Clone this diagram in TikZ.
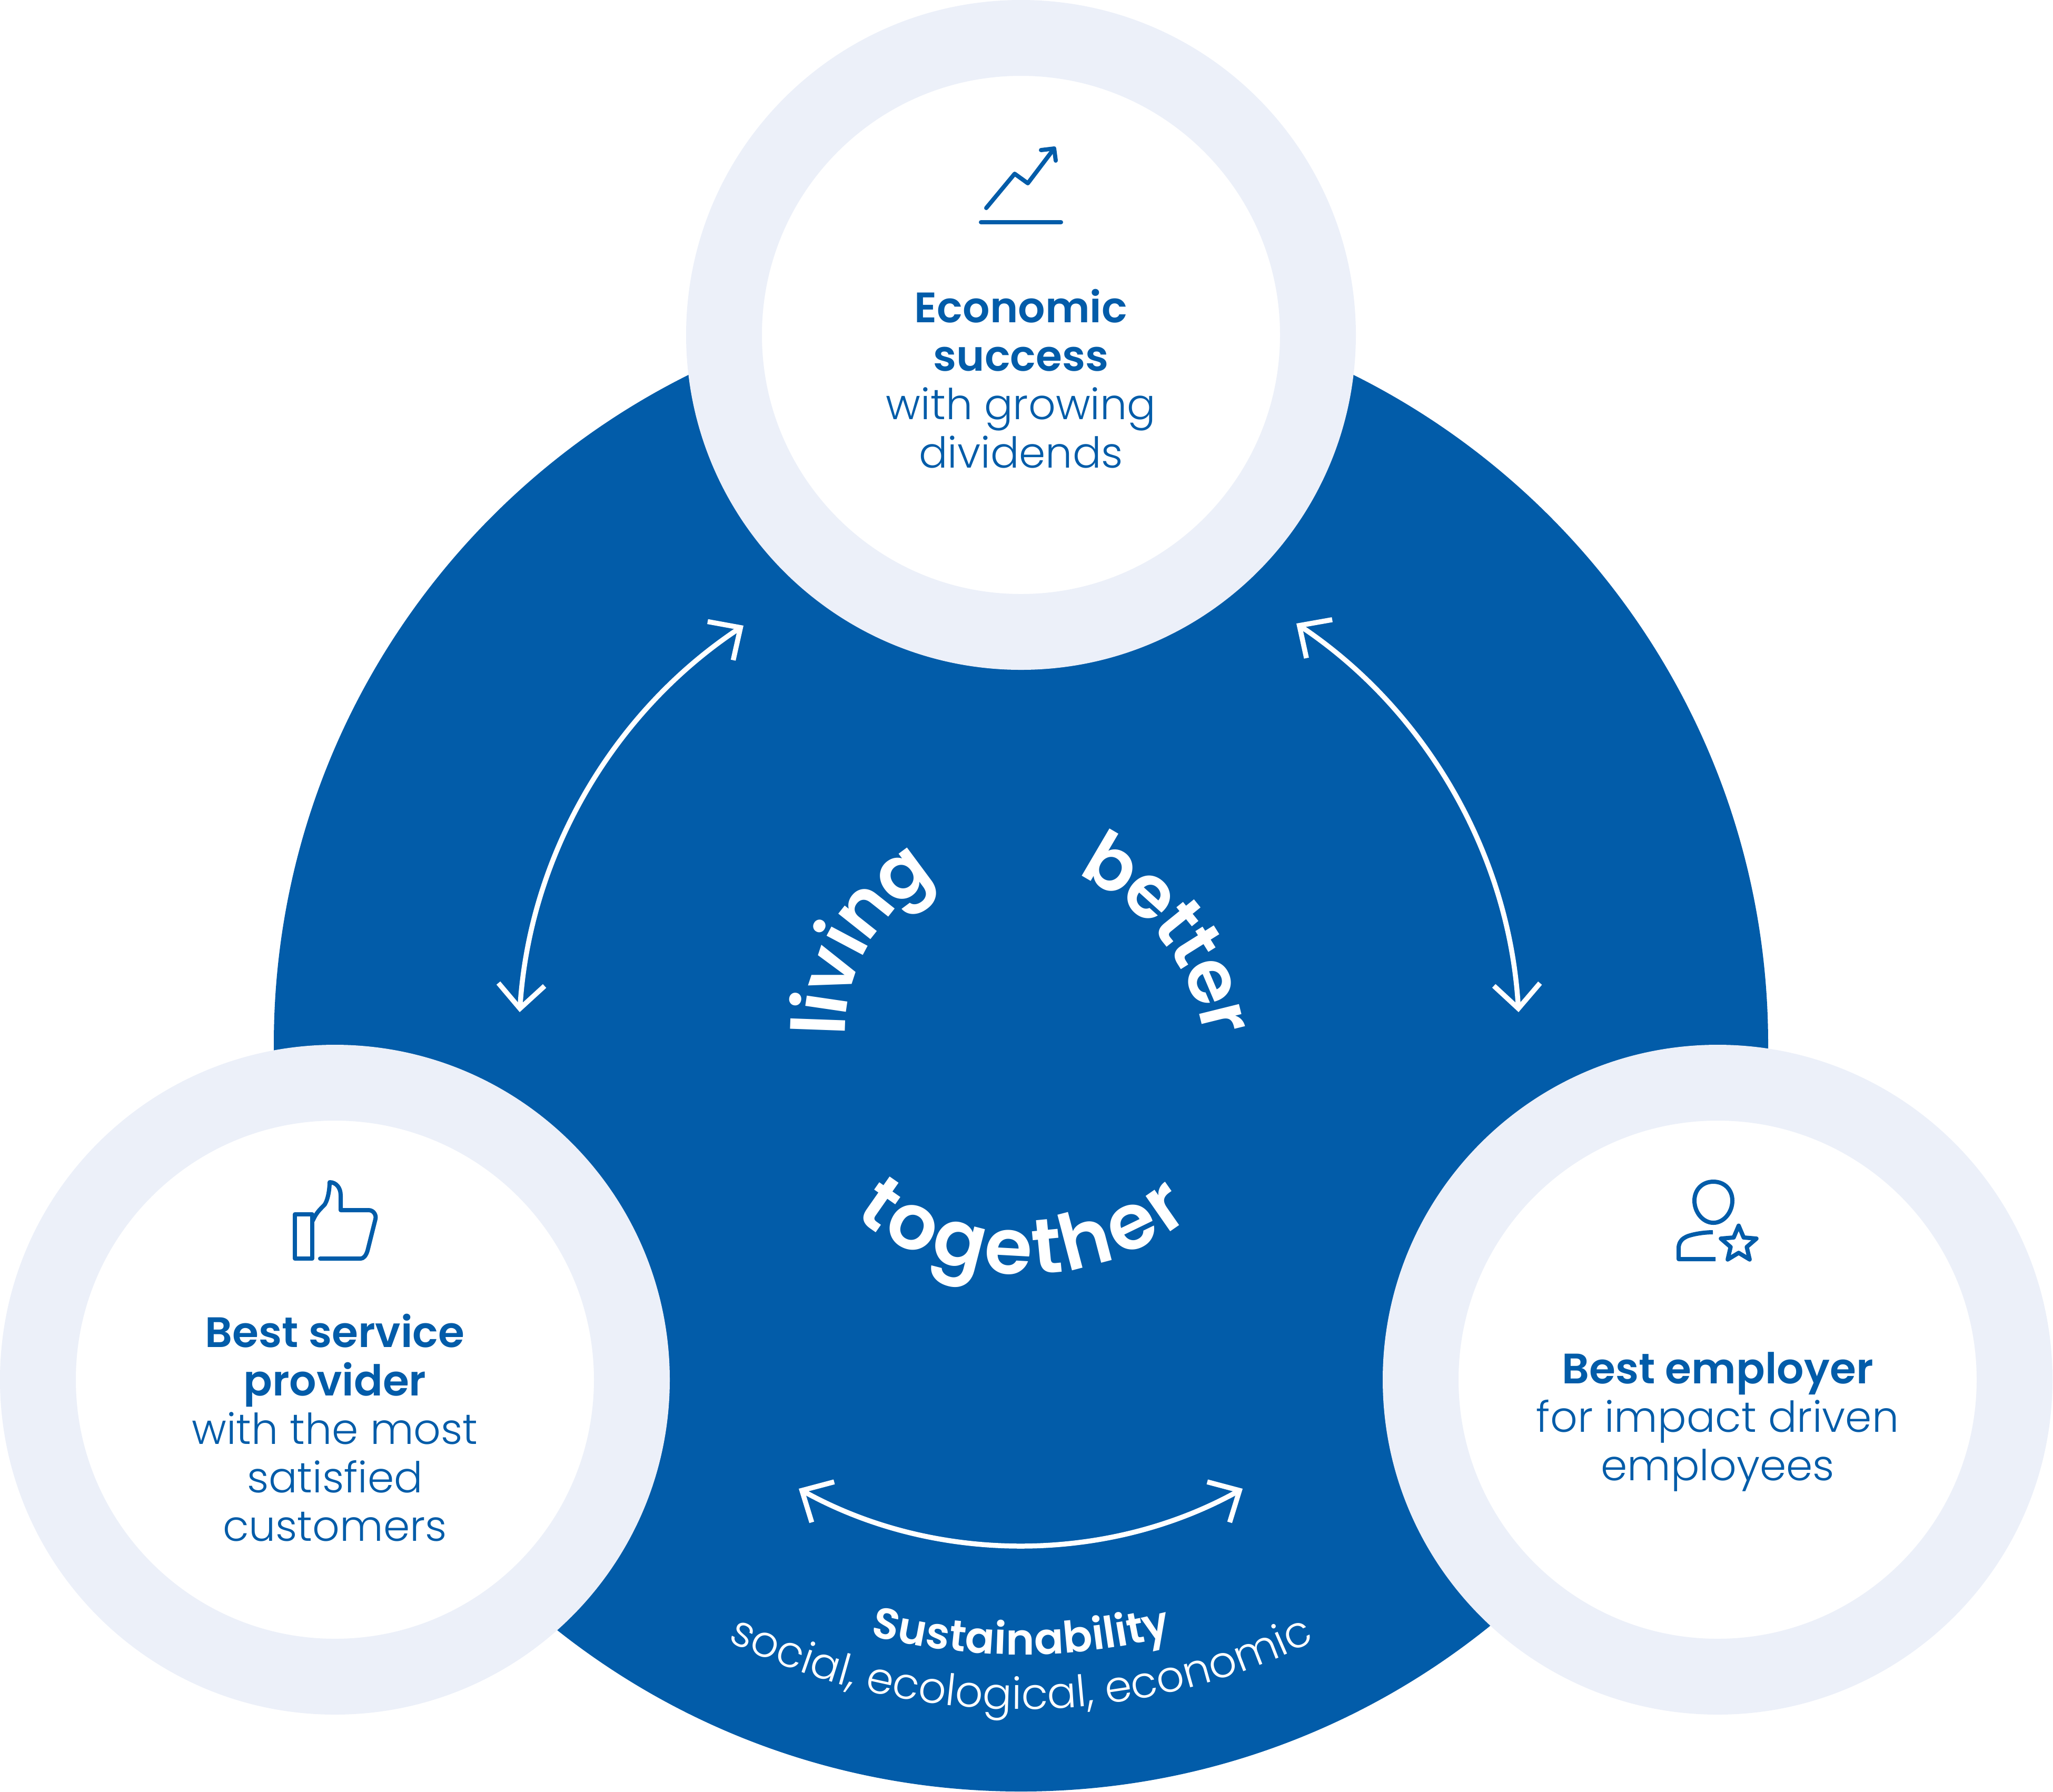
\documentclass[tikz,border=0pt]{standalone}
\usepackage{fontspec}
\setmainfont{Poppins Light}[BoldFont={Poppins SemiBold}]
\newfontfamily\wheelfont{Poppins SemiBold}
\newfontfamily\semifont{Poppins SemiBold}
\usetikzlibrary{arrows.meta,decorations.text,shapes.geometric}
\definecolor{brandblue}{HTML}{025CA9}
\definecolor{ringpale}{HTML}{ECF0F9}
\tikzset{
	hubdisc/.style={circle, fill=brandblue, inner sep=0pt, minimum size=28.38cm},
	ring/.style={circle, fill=white, draw=ringpale, line width=1.44cm, inner sep=0pt, minimum size=11.28cm},
	caption/.style={align=center, text=brandblue, font=\fontsize{23}{26.2}\selectfont},
	flow/.style={draw=white, line width=2.7pt, {Straight Barb[length=13pt,width=25pt]}-{Straight Barb[length=13pt,width=25pt]}},
	glyph/.style={draw=brandblue, line width=0.08cm, line cap=round, line join=round},
	wheel/.style={decorate, decoration={text along path, text align=center, raise=-0.3cm, text={|\color{white}\wheelfont\fontsize{40}{40}\selectfont|#1}}},
	wheelwide/.style={decorate, decoration={text along path, text align=center, raise=-0.35cm, text={|\color{white}\wheelfont\fontsize{42}{42}\selectfont|#1}}},
	sublabel/.style={decorate, decoration={text along path, text align=center, text={|\color{white}\fontsize{23.5}{26}\selectfont|#1}}},
	sublabelbold/.style={decorate, decoration={text along path, text align=center, text={|\color{white}\semifont\fontsize{23.5}{26}\selectfont|#1}}},
}
\begin{document}
\begin{tikzpicture}
	\useasboundingbox (0,0) rectangle (38.99,-34.02);

	\node[hubdisc] (hub) at (19.39,-19.83){};
	\node[ring] (ringTop) at (19.39,-6.36){};
	\node[ring] (ringLeft) at (6.36,-26.20){};
	\node[ring] (ringRight) at (32.62,-26.20){};

	\node[caption] (textTop) at (19.39,-7.19){\textbf{Economic}\\\textbf{success}\\with growing\\dividends};
	\node[caption] (textLeft) at (6.36,-27.11){\textbf{Best service}\\\textbf{provider}\\with the most\\satisfied\\customers};
	\node[caption] (textRight) at (32.62,-27.00){\textbf{Best employer}\\for impact driven\\employees};

	\coordinate (leftLow) at (9.87,-19.22);
	\coordinate (leftHigh) at (14.12,-11.88);
	\coordinate (rightLow) at (28.84,-19.22);
	\coordinate (rightHigh) at (24.62,-11.84);
	\coordinate (lowLeft) at (15.17,-28.27);
	\coordinate (lowRight) at (23.60,-28.27);
	\draw[flow] (leftLow) to[bend left=26.4, looseness=0.9] (leftHigh);
	\draw[flow] (rightHigh) to[bend left=26.4, looseness=0.9] (rightLow);
	\draw[flow] (lowLeft) to[bend right=29, looseness=0.9] (lowRight);

	\path[wheel=living] (19.35,-19.6) ++(195:3.6) arc[start angle=195, end angle=105, radius=3.6];
	\path[wheel=better] (18.75,-20.45) ++(85:4.5) arc[start angle=85, end angle=-9, radius=4.5];
	\path[wheelwide=together] (19.42,-19.0) ++(225:4.85) arc[start angle=225, end angle=315, radius=4.85];

	\path[sublabelbold=Sustainability] (19.39,-19.83) ++(250:11.59) arc[start angle=250, end angle=290, radius=11.59];
	\path[sublabel={social, ecological, economic}] (19.39,-19.83) ++(235:12.63) arc[start angle=235, end angle=305, radius=12.63];

	% icons
	\draw[glyph] (18.73,-3.95) -- (19.27,-3.30) -- (19.52,-3.48) -- (20.02,-2.82);
	\draw[glyph] (19.77,-2.85) -- (20.02,-2.82) -- (20.05,-3.05);
	\draw[glyph] (18.63,-4.22) -- (20.15,-4.22);

	\draw[glyph] (5.60,-23.06) rectangle (5.93,-23.90);
	\draw[glyph] (5.94,-23.18) .. controls (6.02,-23.00) and (6.10,-22.95) .. (6.17,-22.87) .. controls (6.24,-22.75) and (6.26,-22.55) .. (6.26,-22.45) .. controls (6.38,-22.45) and (6.47,-22.55) .. (6.47,-22.70) -- (6.47,-22.98) -- (7.00,-22.98) .. controls (7.10,-22.98) and (7.15,-23.08) .. (7.13,-23.15) -- (6.98,-23.75) .. controls (6.95,-23.85) and (6.90,-23.90) .. (6.85,-23.90) -- (6.08,-23.90);

	\draw[glyph] (32.54,-22.44) .. controls (32.32,-22.44) and (32.18,-22.60) .. (32.18,-22.80) .. controls (32.18,-23.02) and (32.34,-23.22) .. (32.54,-23.22) .. controls (32.74,-23.22) and (32.90,-23.02) .. (32.90,-22.80) .. controls (32.90,-22.60) and (32.76,-22.44) .. (32.54,-22.44) -- cycle;
	\draw[glyph, line cap=butt] (32.53,-23.40) .. controls (32.30,-23.40) and (32.05,-23.46) .. (32.00,-23.50) .. controls (31.92,-23.54) and (31.88,-23.62) .. (31.88,-23.70) -- (31.88,-23.91) -- (32.58,-23.91);
	\node[star, star points=5, star point ratio=2.2, minimum size=0.71cm, inner sep=0pt, glyph] (starBadge) at (33.02,-23.63){};
\end{tikzpicture}
\end{document}
